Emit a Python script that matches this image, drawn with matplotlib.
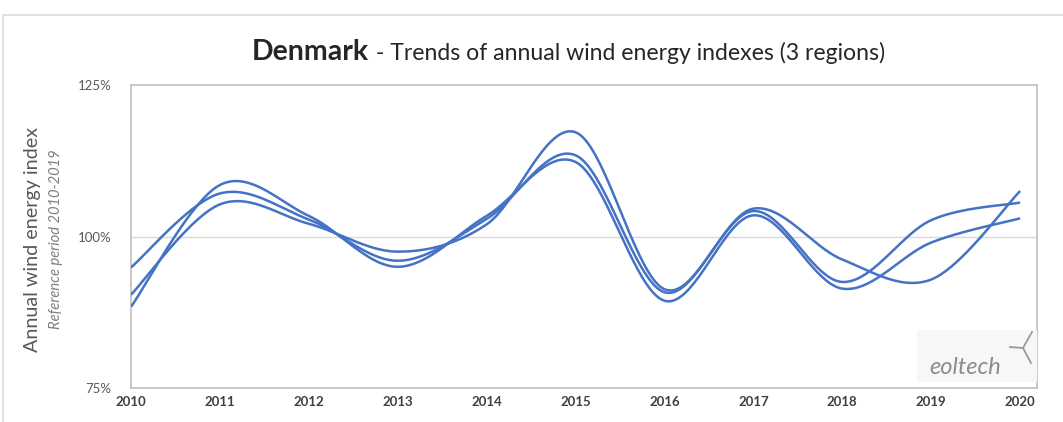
import numpy as np
import matplotlib.pyplot as plt
from matplotlib.patches import Rectangle

# Data (annual wind energy index, % of 2010-2019 reference)
years = [2010, 2011, 2012, 2013, 2014, 2015, 2016, 2017, 2018, 2019, 2020]
region_a = [94.9, 107.1, 102.8, 96.0, 102.9, 113.4, 90.8, 104.2, 92.5, 102.7, 105.6]
region_b = [90.4, 105.3, 102.1, 97.5, 102.0, 117.2, 91.3, 104.6, 96.2, 92.9, 107.5]
region_c = [88.4, 108.5, 103.4, 95.0, 103.4, 112.3, 89.4, 103.5, 91.4, 99.0, 103.0]
y_ticks = [75, 100, 125]

W, H = 1063, 422


def smooth(x, y, n=40):
    """Excel-style smoothed line (Catmull-Rom Bezier segments)."""
    x = np.asarray(x, float)
    y = np.asarray(y, float)
    px = np.concatenate([[x[0]], x, [x[-1]]])
    py = np.concatenate([[y[0]], y, [y[-1]]])
    t = np.linspace(0, 1, n)[:, None]
    xs, ys = [], []
    for i in range(1, len(px) - 2):
        p0 = np.array([px[i], py[i]])
        p3 = np.array([px[i + 1], py[i + 1]])
        c1 = p0 + (p3 - np.array([px[i - 1], py[i - 1]])) / 6
        c2 = p3 - (np.array([px[i + 2], py[i + 2]]) - p0) / 6
        pts = ((1 - t) ** 3) * p0 + 3 * ((1 - t) ** 2) * t * c1 + 3 * (1 - t) * t ** 2 * c2 + t ** 3 * p3
        xs.append(pts[:, 0])
        ys.append(pts[:, 1])
    return np.concatenate(xs), np.concatenate(ys)


def fx(px):
    return px / W


def fy(py):
    return 1 - py / H


plt.rcParams['font.family'] = ['Lato', 'DejaVu Sans']

fig = plt.figure(figsize=(W / 100, H / 100), dpi=100)
fig.patches.append(Rectangle((fx(3), -0.1), 1.2, fy(15) + 0.1, transform=fig.transFigure,
                             fill=False, edgecolor='#d9d9d9', linewidth=1.2))

ax = fig.add_axes([fx(131), fy(388), 906 / W, 303 / H])

for series in [region_a, region_b, region_c]:
    sx, sy = smooth(years, series)
    ax.plot(sx, sy, color='#4472C4', linewidth=1.8, zorder=3, solid_capstyle='butt')

ax.set_xlim(2010, 2020.19)
ax.set_ylim(75, 125)
ax.set_yticks(y_ticks)
ax.set_yticklabels([f"{v}%" for v in y_ticks], color='#595959', fontsize=9.5)
ax.set_xticks(years)
ax.set_xticklabels([str(y) for y in years], fontweight='bold', color='#404040', fontsize=9.5)
ax.tick_params(length=0, pad=6)
ax.tick_params(axis='y', pad=14)
ax.axhline(100, color='#d9d9d9', linewidth=1, zorder=1)
for s in ax.spines.values():
    s.set_color('#bfbfbf')
    s.set_linewidth(1.2)

# Title
fig.text(fx(252), fy(52), "Denmark", ha='left', va='center', fontsize=20.5,
         fontweight='bold', color='#262626')
fig.text(fx(376), fy(53), "- Trends of annual wind energy indexes (3 regions)", ha='left',
         va='center', fontsize=16.6, color='#262626')

# Axis titles
fig.text(fx(33), fy(239), "Annual wind energy index", rotation=90, ha='center',
         va='center', fontsize=14.2, color='#595959')
fig.text(fx(56), fy(239), "Reference period 2010-2019", rotation=90, ha='center',
         va='center', fontsize=10.6, style='italic', color='#7f7f7f')

# Logo
fig.patches.append(Rectangle((fx(917), fy(382)), 120 / W, 52 / H, transform=fig.transFigure,
                             facecolor='#f7f7f7', edgecolor='none', zorder=2))
fig.text(fx(965), fy(368), "eoltech", ha='center', va='center', fontsize=17,
         style='italic', color='#8c8c8c', zorder=3)
hub = (1023, 348)
for tip in [(1032, 332), (1010, 347), (1031, 363)]:
    fig.lines.append(plt.Line2D([fx(hub[0]), fx(tip[0])], [fy(hub[1]), fy(tip[1])],
                                transform=fig.transFigure, color='#9a9a9a', linewidth=1.3, zorder=3))

fig.savefig('out.png', dpi=100)
